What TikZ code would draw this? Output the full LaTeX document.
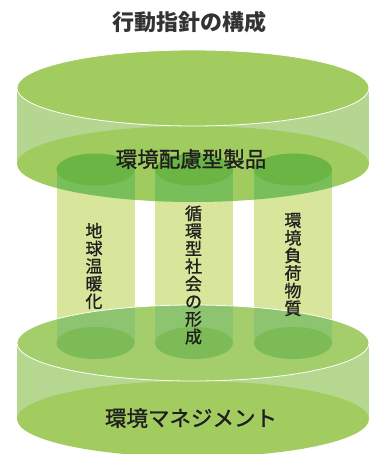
\documentclass[tikz,border=0pt]{standalone}
\usepackage{fontspec}
\newfontfamily\jp[FakeBold=1.2]{Noto Sans CJK JP}
\newfontfamily\jpb{Noto Sans CJK JP}
\begin{document}
\begin{tikzpicture}[x=1pt,y=-1pt,
  disk/.style={x radius=176pt,y radius=38pt},
  pil/.style={x radius=39pt,y radius=16pt},
  lbl/.style={font=\jp\fontsize{21.5}{24}\selectfont,text=black!88},
  vlbl/.style={font=\jp\fontsize{17}{17.6}\selectfont,text=black!88,align=center,inner sep=0pt}]
\definecolor{topface}{HTML}{A2CC60}
\definecolor{sideA}{HTML}{B5D690}
\definecolor{botA}{HTML}{A0CB5E}
\definecolor{pilIn}{HTML}{78BF5C}
\definecolor{pilTop}{HTML}{6AB543}
\definecolor{pilBody}{HTML}{D8E69B}
\definecolor{face2}{HTML}{A4CE6C}
\definecolor{pilIn2}{HTML}{8CC46F}
\definecolor{pilBot}{HTML}{7DBB56}
\definecolor{sideB}{HTML}{B6D78F}
\definecolor{botB}{HTML}{A2CC60}
\useasboundingbox (0,0) rectangle (370,454);
\clip (0,0) rectangle (370,454);
% top disk
\fill[sideA] (17,88) rectangle (369,164);
\fill[botA] (193,164) ellipse[disk];
\fill[topface] (193,88) ellipse[disk];
\draw[white,line width=0.8pt] (193,88) ellipse[disk];
% pillars
\foreach \px in {95.5,194,293}{
  \fill[pilBody] (\px-39,169.5) rectangle (\px+39,343);
}
\begin{scope}
  \clip (193,164) ellipse[disk];
  \foreach \px in {95.5,194,293}{
    \fill[pilIn] (\px-39,169.5) rectangle (\px+39,343);
  }
\end{scope}
\foreach \px in {95.5,194,293}{
  \fill[pilTop] (\px,169.5) ellipse[pil];
}
% bottom disk
\fill[sideB] (17,343) rectangle (369,419);
\fill[botB] (193,419) ellipse[disk];
\fill[face2] (193,343) ellipse[disk];
\begin{scope}
  \clip (193,343) ellipse[disk];
  \foreach \px in {95.5,194,293}{
    \fill[pilIn2] (\px-39,169.5) rectangle (\px+39,343);
  }
\end{scope}
\foreach \px in {95.5,194,293}{
  \fill[pilBot] (\px,343) ellipse[pil];
}
\draw[white,line width=0.8pt] (193,343) ellipse[disk];
% texts
\node[font=\jpb\bfseries\fontsize{22}{24}\selectfont,text=black!80] (title) at (189,22) {行動指針の構成};
\node[lbl] (top) at (191,159) {環境配慮型製品};
\node[lbl] (bot) at (191,418) {環境マネジメント};
\node[vlbl] (p1) at (94,266) {地\\球\\温\\暖\\化};
\node[vlbl] (p2) at (193.5,275) {循\\環\\型\\社\\会\\の\\形\\成};
\node[vlbl] (p3) at (293,264.5) {環\\境\\負\\荷\\物\\質};
\end{tikzpicture}
\end{document}
